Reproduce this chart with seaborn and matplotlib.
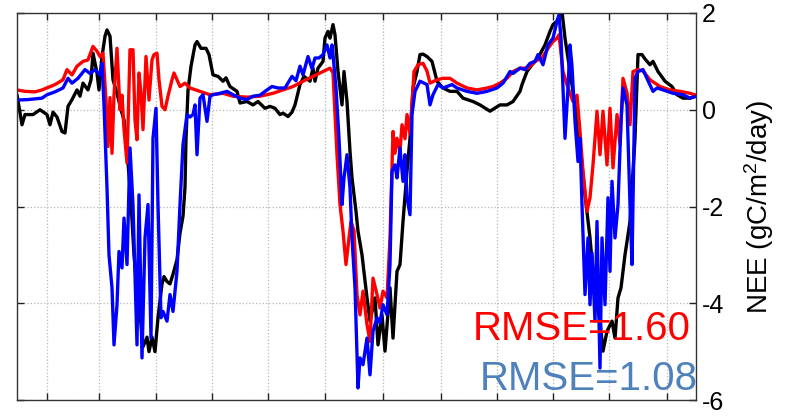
import matplotlib
matplotlib.use("Agg")
import matplotlib.pyplot as plt
import seaborn as sns
import pandas as pd

# ---- data (time index, NEE in gC/m2/day) ----
observed = [(17,0.31),(22,-0.31),(25,-0.1),(33,-0.1),(40,0.0),(47,-0.1),(50,-0.31),(53,-0.05),(57,-0.15),(62,-0.45),(65,-0.48),(68,0.07),(72,0.21),(77,0.41),(80,0.28),(83,0.55),(88,0.41),(91,0.62),(93,1.17),(97,0.76),(99,0.41),(102,1.1),(105,1.52),(107,1.65),(110,1.52),(113,0.62),(117,0.34),(121,0.0),(124,-0.21),(127,-0.83),(131,-1.9),(134,-3.0),(137,-3.7),(140,-4.2),(143,-4.9),(147,-4.7),(149,-5.0),(152,-4.7),(155,-5.0),(158,-4.3),(162,-3.6),(164,-3.45),(167,-3.55),(170,-3.6),(173,-3.4),(177,-3.1),(180,-2.55),(183,-2.2),(185,-1.6),(186,-0.6),(188,0.4),(191,0.9),(195,1.34),(197,1.41),(201,1.27),(206,1.27),(209,1.14),(213,0.72),(218,0.69),(223,0.59),(226,0.66),(230,0.48),(237,0.38),(240,0.14),(247,0.17),(253,0.1),(258,0.17),(265,0.03),(270,0.07),(275,0.03),(280,-0.1),(283,-0.07),(288,-0.14),(292,-0.05),(295,0.1),(300,0.52),(304,0.69),(310,0.59),(313,0.86),(315,0.59),(318,0.86),(323,1.0),(325,1.48),(328,1.62),(330,1.48),(333,1.76),(335,1.55),(338,0.79),(342,0.1),(344,0.79),(347,0.17),(350,-0.86),(352,-1.41),(356,-2.1),(358,-2.51),(362,-3.0),(367,-3.89),(370,-4.37),(375,-3.89),(378,-4.86),(382,-4.24),(385,-4.99),(390,-3.68),(393,-4.72),(397,-3.34),(400,-3.2),(403,-2.31),(407,-1.27),(410,-0.59),(413,0.45),(417,0.79),(420,1.14),(423,1.15),(427,1.1),(432,1.0),(437,0.59),(443,0.45),(450,0.38),(457,0.38),(463,0.24),(473,0.17),(480,0.1),(490,-0.03),(500,0.1),(507,0.1),(513,0.17),(520,0.38),(522,0.52),(527,0.79),(532,0.93),(538,1.07),(545,1.34),(550,1.62),(553,1.76),(557,1.83),(562,2.03),(565,1.48),(570,0.79),(575,0.1),(580,-0.72),(585,-1.76),(590,-2.65),(595,-3.82),(600,-4.37),(603,-4.99),(607,-4.58),(612,-4.37),(615,-4.72),(618,-3.89),(621,-3.68),(625,-3.0),(630,-2.31),(635,-0.59),(638,1.14),(642,1.14),(645,1.05),(650,0.93),(653,1.0),(658,0.79),(665,0.59),(672,0.48),(677,0.31),(683,0.24),(690,0.24),(695,0.28)]

model_red = [(17,0.41),(25,0.38),(35,0.37),(42,0.41),(48,0.46),(55,0.52),(63,0.62),(67,0.83),(72,0.72),(77,0.9),(83,1.0),(88,1.03),(93,1.31),(97,1.21),(100,1.1),(103,1.17),(106,0.2),(108,-0.76),(110,0.25),(112,-0.9),(114,0.3),(117,1.27),(120,0.0),(122,0.3),(124,-0.4),(127,-1.1),(130,1.24),(133,1.24),(135,-0.21),(137,-0.62),(139,0.76),(141,0.35),(143,-0.41),(146,1.1),(149,0.2),(152,1.03),(154,1.14),(157,1.17),(159,0.62),(162,0.07),(165,0.0),(168,0.28),(172,0.62),(174,0.76),(177,0.62),(180,0.48),(185,0.55),(190,0.45),(200,0.38),(210,0.31),(223,0.34),(233,0.28),(247,0.26),(260,0.28),(273,0.34),(283,0.41),(293,0.48),(303,0.59),(313,0.69),(323,0.79),(330,0.86),(333,0.76),(337,-0.93),(340,-1.96),(343,-2.51),(346,-3.2),(349,-2.65),(351,-2.31),(354,-2.5),(357,-3.82),(360,-4.24),(363,-3.75),(367,-4.44),(370,-4.79),(373,-3.48),(377,-3.82),(380,-4.1),(383,-3.75),(387,-3.89),(390,-2.65),(393,-0.45),(395,-0.9),(397,-0.59),(400,-0.85),(402,-0.31),(405,-0.6),(407,-0.1),(410,-0.5),(412,0.1),(414,0.79),(418,0.93),(423,0.96),(427,0.8),(430,0.55),(437,0.62),(443,0.65),(450,0.65),(457,0.55),(467,0.45),(477,0.41),(487,0.45),(493,0.48),(500,0.55),(507,0.65),(513,0.79),(520,0.86),(528,0.86),(535,1.0),(542,1.07),(548,1.27),(553,1.41),(557,1.48),(559,1.55),(563,0.79),(568,0.45),(573,0.17),(577,0.3),(580,-0.45),(583,-1.27),(587,-2.1),(590,-1.82),(593,-1.14),(597,-0.03),(600,-0.93),(603,-0.03),(607,-1.14),(610,0.03),(613,-1.2),(617,-0.1),(620,-0.72),(623,0.65),(627,0.35),(630,-0.31),(633,0.79),(638,0.83),(643,0.8),(650,0.62),(660,0.48),(670,0.41),(680,0.38),(690,0.34),(695,0.31)]

model_blue = [(17,0.2),(28,0.21),(42,0.24),(47,0.31),(55,0.37),(63,0.45),(68,0.65),(72,0.55),(78,0.65),(85,0.83),(90,0.75),(95,0.83),(100,0.72),(102,0.96),(104,0.1),(107,-1.62),(109,-3.0),(112,-3.68),(114,-4.86),(117,-4.03),(119,-2.93),(122,-3.27),(124,-2.24),(127,-3.2),(130,-0.79),(133,-1.96),(137,-4.86),(139,-1.76),(142,-5.13),(145,-2.65),(148,-1.96),(151,-4.72),(153,-0.59),(156,0.03),(158,-1.96),(161,-4.3),(163,-4.17),(167,-4.37),(170,-3.82),(173,-4.17),(177,-3.34),(180,-1.96),(183,-0.72),(187,-0.1),(190,-0.15),(193,-0.1),(195,0.1),(197,-0.93),(200,0.24),(203,0.31),(207,-0.24),(210,0.28),(213,0.31),(220,0.34),(227,0.38),(233,0.31),(240,0.24),(247,0.21),(253,0.28),(260,0.3),(267,0.41),(272,0.48),(278,0.45),(285,0.45),(292,0.69),(296,0.6),(300,0.9),(303,0.72),(308,1.1),(312,0.85),(315,1.07),(319,1.07),(323,1.14),(327,1.34),(330,1.07),(332,1.34),(333,1.14),(336,0.45),(339,-0.59),(342,-1.96),(344,-1.41),(347,-0.93),(350,-1.62),(352,-2.65),(355,-3.68),(358,-5.75),(360,-5.13),(363,-5.27),(367,-4.72),(370,-5.48),(373,-4.58),(377,-4.3),(380,-4.4),(383,-4.03),(387,-4.24),(390,-3.2),(392,-1.27),(395,-1.14),(397,-1.41),(400,-0.79),(403,-1.48),(405,-0.93),(407,-1.82),(410,-2.17),(412,-0.1),(415,0.38),(420,0.59),(423,0.56),(427,0.52),(430,0.1),(433,0.31),(438,0.52),(443,0.45),(452,0.52),(457,0.45),(467,0.38),(477,0.34),(487,0.38),(497,0.45),(503,0.55),(510,0.79),(513,0.75),(520,0.86),(525,0.83),(530,0.96),(535,1.0),(538,1.14),(543,0.93),(548,1.34),(553,1.48),(557,1.83),(559,1.96),(561,1.48),(563,0.45),(565,-0.59),(568,0.45),(570,1.34),(572,0.9),(575,-0.24),(578,-1.07),(580,-0.59),(582,-1.96),(585,-3.82),(588,-2.65),(590,-4.03),(592,-2.96),(595,-4.37),(597,-2.31),(600,-5.34),(602,-2.65),(605,-4.03),(608,-1.82),(610,-3.34),(612,-1.48),(615,-2.65),(618,-1.96),(621,-0.24),(623,0.45),(627,0.1),(630,-1.96),(632,-3.2),(635,0.65),(638,0.79),(643,0.83),(648,0.6),(653,0.38),(657,0.45),(663,0.41),(673,0.34),(683,0.31),(690,0.24),(695,0.27)]

x_ticks = [47, 99, 156, 212, 268, 325, 383, 441, 497, 553, 609, 667]
y_ticks = [2, 0, -2, -4, -6]
rmse_labels = ["RMSE=1.60", "RMSE=1.08"]

# ---- build long table ----
frames = []
for name, pts in [("obs", observed), ("red", model_red), ("blue", model_blue)]:
    d = pd.DataFrame(pts, columns=["t", "NEE"])
    d["series"] = name
    frames.append(d)
df = pd.concat(frames, ignore_index=True)

sns.set_theme(style="white")
plt.rcParams["font.family"] = ["Liberation Sans", "DejaVu Sans"]
plt.rcParams["mathtext.fontset"] = "custom"
plt.rcParams["mathtext.rm"] = "Liberation Sans"
plt.rcParams["mathtext.it"] = "Liberation Sans"
plt.rcParams["mathtext.default"] = "regular"

fig = plt.figure(figsize=(7.86, 4.16), dpi=100)
ax = fig.add_axes([17/786, 16/416, 679/786, 387/416])

sns.lineplot(data=df, x="t", y="NEE", hue="series",
             hue_order=["obs", "red", "blue"],
             palette={"obs": "#000000", "red": "#FF0000", "blue": "#0000FF"},
             estimator=None, sort=False, linewidth=2.4, legend=False, ax=ax)

ax.set_xlim(17, 696)
ax.set_ylim(-6, 2)
ax.set_xticks(x_ticks)
ax.set_xticklabels([])
ax.set_yticks(y_ticks)
ax.set_yticklabels([str(v) for v in y_ticks])
ax.set_xlabel("")
ax.yaxis.tick_right()
ax.yaxis.set_label_position("right")
ax.set_ylabel("NEE (gC/m$^2$/day)", fontsize=20, labelpad=13, color="black")

ax.tick_params(axis="y", left=True, right=True, direction="in", length=5,
               width=1, labelsize=18, pad=4, colors="#222222", labelcolor="black")
ax.tick_params(axis="x", top=True, bottom=True, direction="in", length=5,
               width=1, colors="#222222")
ax.grid(True, linestyle=":", color="#b8b8b8", linewidth=0.9)
for s in ax.spines.values():
    s.set_color("#333333")
    s.set_linewidth(1.0)
    s.set_visible(True)

ax.text(0.992, 0.155, rmse_labels[0], transform=ax.transAxes, ha="right",
        va="baseline", fontsize=29, color="#FF0000")
ax.text(1.002, 0.026, rmse_labels[1], transform=ax.transAxes, ha="right",
        va="baseline", fontsize=29, color="#4F81BD")

fig.savefig("out.png", dpi=100)
